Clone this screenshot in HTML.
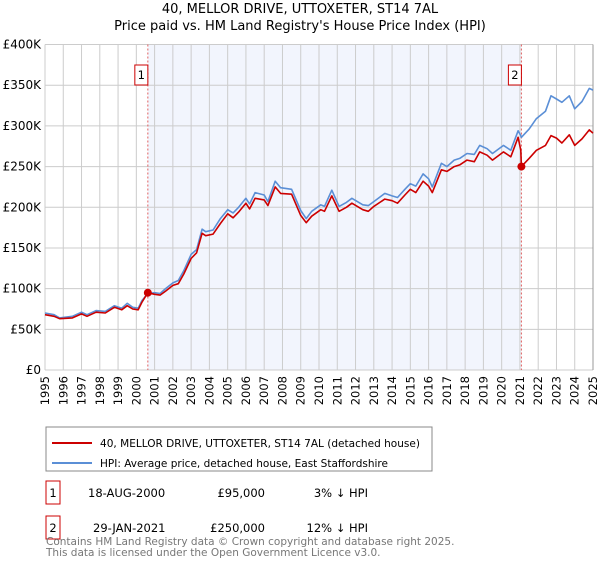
<!DOCTYPE html>
<html><head><meta charset="utf-8"><style>
body{margin:0;background:#fff;font-family:"Liberation Sans","DejaVu Sans",sans-serif;}
svg text{font-family:"DejaVu Sans","Liberation Sans",sans-serif;}
</style></head><body>
<svg id="chart" width="600" height="560" viewBox="0 0 600 560" xmlns="http://www.w3.org/2000/svg">
<text x="300" y="13" text-anchor="middle" font-size="13">40, MELLOR DRIVE, UTTOXETER, ST14 7AL</text>
<text x="300" y="30" text-anchor="middle" font-size="13">Price paid vs. HM Land Registry's House Price Index (HPI)</text>
<g id="plot"></g>
<g>
<rect x="46" y="427" width="386" height="44" fill="#fff" stroke="#888"/>
<line x1="52" y1="443" x2="92" y2="443" stroke="#cc0000" stroke-width="2"/>
<text x="100" y="447" font-size="11" textLength="320" lengthAdjust="spacingAndGlyphs">40, MELLOR DRIVE, UTTOXETER, ST14 7AL (detached house)</text>
<line x1="52" y1="463" x2="92" y2="463" stroke="#5b8fd6" stroke-width="2"/>
<text x="100" y="467" font-size="11" textLength="288" lengthAdjust="spacingAndGlyphs">HPI: Average price, detached house, East Staffordshire</text>
</g>
<g font-size="11.5">
<rect x="46" y="481" width="14" height="23" fill="#fff" stroke="#cc0000"/>
<text x="53" y="497" text-anchor="middle">1</text>
<text x="88" y="497">18-AUG-2000</text>
<text x="265" y="497" text-anchor="end">£95,000</text>
<text x="368" y="497" text-anchor="end">3% ↓ HPI</text>
<rect x="46" y="516" width="14" height="23" fill="#fff" stroke="#cc0000"/>
<text x="53" y="532" text-anchor="middle">2</text>
<text x="93" y="532">29-JAN-2021</text>
<text x="265" y="532" text-anchor="end">£250,000</text>
<text x="368" y="532" text-anchor="end">12% ↓ HPI</text>
</g>
<text x="46" y="545" font-size="10.5" fill="#777">Contains HM Land Registry data © Crown copyright and database right 2025.</text>
<text x="46" y="556" font-size="10.5" fill="#777">This data is licensed under the Open Government Licence v3.0.</text>
</svg>
<script>
const years=[1995.0,1995.5,1995.8,1996.5,1997.0,1997.3,1997.8,1998.3,1998.8,1999.2,1999.5,1999.8,2000.1,2000.3,2000.63,2001.0,2001.3,2001.6,2002.0,2002.3,2002.6,2003.0,2003.3,2003.6,2003.8,2004.2,2004.6,2005.0,2005.3,2005.6,2006.0,2006.2,2006.5,2007.0,2007.2,2007.6,2007.9,2008.5,2009.0,2009.3,2009.6,2010.1,2010.3,2010.7,2011.1,2011.5,2011.8,2012.4,2012.7,2013.0,2013.6,2014.0,2014.3,2014.7,2015.0,2015.3,2015.7,2016.0,2016.2,2016.7,2017.0,2017.4,2017.7,2018.1,2018.5,2018.8,2019.2,2019.5,2020.1,2020.5,2020.9,2021.05,2021.08,2021.5,2021.9,2022.4,2022.7,2023.0,2023.3,2023.7,2024.0,2024.4,2024.8,2025.0];
const hpiValues=[70,68,64,66,71,68,73,72,79,76,82,77,76,85,94,95,94,100,107,110,122,142,148,173,170,172,186,197,193,200,211,204,218,215,207,232,224,222,196,186,195,203,201,221,201,206,211,203,202,207,217,214,212,222,229,226,241,235,225,254,250,258,260,266,265,276,272,266,276,270,294,288,286,296,309,318,337,333,329,337,321,330,346,344];
const priceValues=[68,66,63,64,69,66,71,70,77,74,79,75,74,83,95,93,92,97,104,106,118,137,144,168,165,167,180,192,187,194,205,198,211,209,202,225,217,216,190,181,189,197,195,214,195,200,205,197,195,201,210,208,205,215,222,218,232,226,218,246,244,250,252,258,256,268,264,258,268,262,286,270,250,260,270,276,288,285,279,289,276,284,295,291];
const saleYears=[2000.63,2021.08];
const salePrices=[95,250];
const saleLabels=["1","2"];
const yTicks=[0,50,100,150,200,250,300,350,400];
const yTickLabels=["£0","£50K","£100K","£150K","£200K","£250K","£300K","£350K","£400K"];
const xTicks=[1995,1996,1997,1998,1999,2000,2001,2002,2003,2004,2005,2006,2007,2008,2009,2010,2011,2012,2013,2014,2015,2016,2017,2018,2019,2020,2021,2022,2023,2024,2025];

const X0=45,X1=593,Y0=370,Y1=44.5;
const xs=t=>X0+(t-1995)/30*(X1-X0);
const ys=v=>Y0-v/400*(Y0-Y1);
const NS="http://www.w3.org/2000/svg";
const g=document.getElementById('plot');
function mk(tag,attrs,parent){const e=document.createElementNS(NS,tag);for(const k in attrs)e.setAttribute(k,attrs[k]);(parent||g).appendChild(e);return e;}

let shade=mk('rect',{x:xs(saleYears[0]),y:Y1,width:xs(saleYears[1])-xs(saleYears[0]),height:Y0-Y1,fill:'#f2f5fd'});



yTicks.forEach((v,i)=>{
  let l=mk('line',{x1:X0,x2:X1,y1:ys(v),y2:ys(v),stroke:'#ccc','stroke-width':1});
  
  
  let t=mk('text',{x:X0-4,y:ys(v)+4,'text-anchor':'end','font-size':12});
  
  
  t.textContent=yTickLabels[i];
});
xTicks.forEach(yr=>{
  let l=mk('line',{x1:xs(yr),x2:xs(yr),y1:Y1,y2:Y0,stroke:'#ccc','stroke-width':1});
  
  
  let t=mk('text',{x:0,y:0,'text-anchor':'end','font-size':11.5,transform:`translate(${xs(yr)+4},376) rotate(-90)`});
  
  
  t.textContent=yr;
});
let ax=mk('line',{x1:X1,x2:X1,y1:Y1,y2:Y0,stroke:'#999','stroke-width':1});



saleYears.forEach((yr,i)=>{
  let l=mk('line',{x1:xs(yr),x2:xs(yr),y1:Y1,y2:Y0,stroke:'#e06060','stroke-width':1,'stroke-dasharray':'2,2'});
  
  
});

function line(vals,color,name){
  const d=years.map((t,i)=>(i?'L':'M')+xs(t).toFixed(1)+','+ys(vals[i]).toFixed(1)).join(' ');
  let p=mk('path',{d,fill:'none',stroke:color,'stroke-width':1.6,'stroke-linejoin':'round'});
  
  
}
line(hpiValues,'#5b8fd6','hpi-line');
line(priceValues,'#cc0000','price-paid-line');

saleYears.forEach((yr,i)=>{
  let c=mk('circle',{cx:xs(yr),cy:ys(salePrices[i]),r:4,fill:'#cc0000'});
  
  
  let r=mk('rect',{x:xs(yr)-13,y:65,width:13,height:20,fill:'#fff',stroke:'#cc0000'});
  
  
  let t=mk('text',{x:xs(yr)-6.5,y:79,'text-anchor':'middle','font-size':11.5});
  
  
  t.textContent=saleLabels[i];
});
</script>
</body></html>
